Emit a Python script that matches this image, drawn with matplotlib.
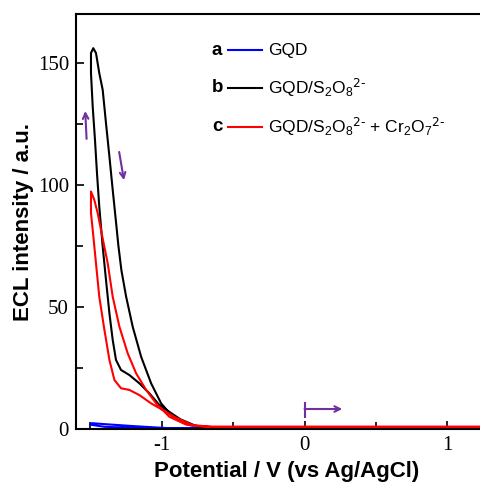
import matplotlib
matplotlib.use("Agg")
import matplotlib.pyplot as plt
from matplotlib.ticker import MultipleLocator

# ECL scans (potential in V, intensity in a.u.)
gqd_v = [0.76, -0.90, -1.00, -1.20, -1.40, -1.50, -1.49, -1.40, -1.20, -1.00, -0.90, 0.76]
gqd_i = [0.2, 0.2, 0.3, 0.5, 0.9, 1.8, 2.4, 2.0, 1.2, 0.5, 0.2, 0.2]

s2o8_v = [1.40, 0.00, -0.60, -0.75, -0.87, -1.016, -1.086, -1.156, -1.226, -1.285,
          -1.320, -1.343, -1.366, -1.390, -1.413, -1.437, -1.453, -1.467, -1.483,
          -1.495, -1.495, -1.479, -1.460, -1.437, -1.413, -1.390, -1.366, -1.343,
          -1.322, -1.303, -1.282, -1.249, -1.203, -1.144, -1.074, -1.004, -0.923,
          -0.806, -0.689, -0.60, 1.40]
s2o8_i = [0.6, 0.6, 0.6, 1.0, 4.0, 9.8, 14.6, 18.7, 22.1, 24.2,
          28.3, 36.5, 47.4, 61.1, 74.7, 91.1, 104.8, 118.4, 132.1,
          145.8, 154.0, 156.0, 154.0, 145.8, 138.9, 125.3, 111.6, 98.0,
          86.0, 75.0, 65.0, 54.2, 41.9, 29.6, 18.7, 10.5, 5.0,
          1.6, 0.7, 0.6, 0.6]

cr_v = [1.40, -0.65, -0.783, -0.90, -0.993, -1.074, -1.156, -1.226, -1.285, -1.331,
        -1.366, -1.401, -1.437, -1.460, -1.483, -1.495, -1.495, -1.472, -1.448,
        -1.425, -1.413, -1.378, -1.343, -1.296, -1.238, -1.179, -1.109, -1.039,
        -0.946, -0.829, -0.713, -0.65, 1.40]
cr_i = [0.9, 0.9, 1.6, 4.6, 7.8, 10.5, 13.9, 16.0, 16.7, 20.1,
        28.3, 40.6, 54.2, 67.9, 81.6, 88.4, 97.3, 93.9, 88.4,
        81.6, 78.0, 67.9, 54.2, 41.9, 31.0, 22.8, 16.0, 10.5,
        5.0, 1.8, 1.0, 0.9, 0.9]

letters = ["a", "b", "c"]
names = ["GQD", r"GQD/S$_2$O$_8$$^{\text{2-}}$",
         r"GQD/S$_2$O$_8$$^{\text{2-}}$ + Cr$_2$O$_7$$^{\text{2-}}$"]
colors = ["#0000ff", "#000000", "#ff0000"]

plt.rcParams["mathtext.default"] = "regular"
plt.rcParams["axes.unicode_minus"] = False
purple = "#7030a0"

fig = plt.figure(figsize=(4.8, 4.84), dpi=100)
ax = fig.add_axes([0.1583, 0.1136, 0.878, 0.8575])

ax.plot(gqd_v, gqd_i, color=colors[0], lw=1.5)
ax.plot(s2o8_v, s2o8_i, color=colors[1], lw=1.5)
ax.plot(cr_v, cr_i, color=colors[2], lw=1.5)

ax.set_xlim(-1.6, 1.35)
ax.set_ylim(0, 170)
ax.xaxis.set_major_locator(MultipleLocator(1))
ax.xaxis.set_minor_locator(MultipleLocator(0.5))
ax.yaxis.set_major_locator(MultipleLocator(50))
ax.yaxis.set_minor_locator(MultipleLocator(25))
ax.tick_params(which="both", direction="in", top=False, right=False, width=1.2)
ax.tick_params(which="major", length=6, labelsize=15, pad=5)
ax.tick_params(which="minor", length=5)
for lab in ax.get_xticklabels() + ax.get_yticklabels():
    lab.set_family("Liberation Serif")
for s in ax.spines.values():
    s.set_linewidth(1.5)

ax.set_xlabel("Potential / V (vs Ag/AgCl)", fontsize=16, fontweight="bold",
              family="Liberation Sans", labelpad=4)
ax.set_ylabel("ECL intensity / a.u.", fontsize=16, fontweight="bold",
              family="Liberation Sans", labelpad=3)

# legend drawn by hand: letter, line, label
rows = [0.913, 0.822, 0.728]
for k in range(3):
    y = rows[k]
    ax.text(0.335, y, letters[k], transform=ax.transAxes, ha="center", va="center",
            fontsize=13.5, fontweight="bold", family="Liberation Sans")
    ax.plot([0.361, 0.441], [y, y], transform=ax.transAxes, color=colors[k], lw=1.5)
    ax.text(0.456, y, names[k], transform=ax.transAxes, ha="left", va="center",
            fontsize=12.5, family="Liberation Sans")

# scan direction arrows
ax.annotate("", xy=(-1.536, 131.4), xytext=(-1.525, 117.7),
            arrowprops=dict(arrowstyle="->", color=purple, lw=1.5))
ax.annotate("", xy=(-1.261, 100.8), xytext=(-1.301, 114.6),
            arrowprops=dict(arrowstyle="->", color=purple, lw=1.5))
ax.annotate("", xy=(0.264, 8.2), xytext=(0.0, 8.2),
            arrowprops=dict(arrowstyle="->", color=purple, lw=1.5,
                            shrinkA=0, shrinkB=0))
ax.plot([0.0, 0.0], [5.0, 10.8], color=purple, lw=1.5)

fig.savefig("out.png", dpi=100)
